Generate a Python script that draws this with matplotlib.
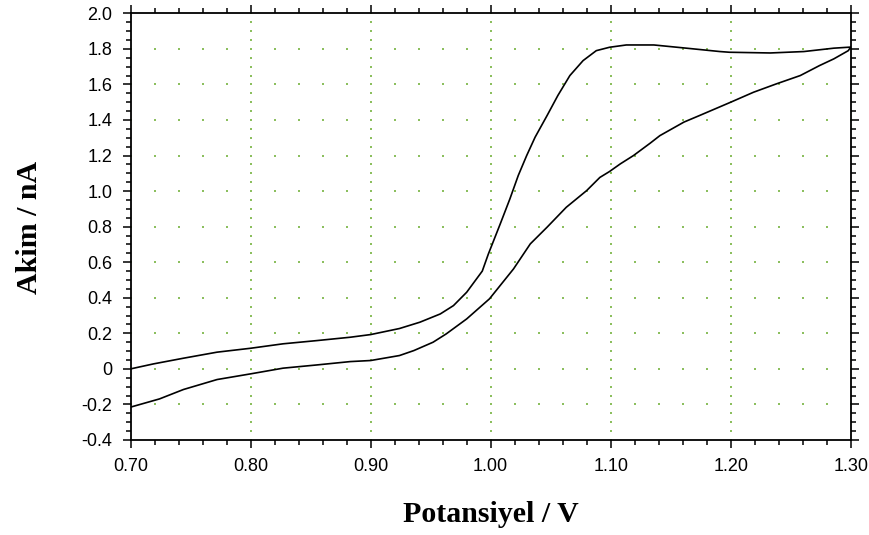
#!/usr/bin/env python3
# -*- coding:utf-8 -*-

import numpy as np
import matplotlib as mpl
mpl.use('Agg')
import matplotlib.pyplot as plt
from matplotlib.ticker import MultipleLocator, FuncFormatter


# forward scan (lower branch), 0.70 -> 1.30 V
fwd_potential = [0.70, 0.724, 0.744, 0.772, 0.80, 0.827, 0.855, 0.883, 0.90,
                 0.924, 0.936, 0.952, 0.963, 0.980, 0.999, 1.019, 1.033,
                 1.047, 1.063, 1.080, 1.091, 1.099, 1.108, 1.119, 1.133,
                 1.141, 1.161, 1.174, 1.200, 1.219, 1.238, 1.258, 1.274,
                 1.286, 1.298, 1.30]
fwd_current = [-0.215, -0.169, -0.116, -0.060, -0.028, 0.004, 0.022, 0.041,
               0.047, 0.075, 0.103, 0.150, 0.197, 0.281, 0.394, 0.562, 0.703,
               0.797, 0.909, 1.003, 1.077, 1.110, 1.153, 1.200, 1.270, 1.312,
               1.388, 1.425, 1.500, 1.556, 1.603, 1.650, 1.706, 1.744, 1.790,
               1.810]

# reverse scan (upper branch), 1.30 -> 0.70 V
rev_potential = [1.30, 1.286, 1.261, 1.233, 1.199, 1.191, 1.163, 1.136, 1.113,
                 1.099, 1.088, 1.077, 1.066, 1.056, 1.047, 1.037, 1.030, 1.023,
                 1.016, 1.008, 0.998, 0.993, 0.980, 0.969, 0.958, 0.941, 0.924,
                 0.90, 0.883, 0.855, 0.827, 0.80, 0.772, 0.744, 0.719, 0.70]
rev_current = [1.810, 1.804, 1.785, 1.777, 1.781, 1.785, 1.804, 1.822, 1.822,
               1.809, 1.790, 1.734, 1.650, 1.538, 1.425, 1.303, 1.200, 1.088,
               0.956, 0.816, 0.645, 0.550, 0.431, 0.356, 0.309, 0.2625, 0.227,
               0.193, 0.178, 0.159, 0.141, 0.116, 0.094, 0.060, 0.028, 0.000]

x_lim = (0.70, 1.30)
y_lim = (-0.4, 2.0)


fig = plt.figure(figsize=(8.7, 5.35), dpi=100)
ax = fig.add_axes([0.1502, 0.1776, 0.8276, 0.7975])

# dotted lattice grid like the instrument software
grid_color = '#8cbf5e'
xmaj = np.round(np.arange(0.80, 1.30, 0.1), 3)
ymaj = np.round(np.arange(-0.2, 2.0, 0.2), 3)
xmin = np.round(np.arange(0.70, 1.30 + 1e-9, 0.02), 3)
ymin = np.round(np.arange(-0.4, 2.0 + 1e-9, 0.05), 3)
gx, gy = [], []
for xv in xmaj:
    for yv in ymin:
        gx.append(xv)
        gy.append(yv)
for yv in ymaj:
    for xv in xmin:
        gx.append(xv)
        gy.append(yv)
ax.scatter(gx, gy, s=2.0, color=grid_color, marker='s', linewidths=0,
           zorder=1, clip_on=True)

ax.plot(list(fwd_potential) + list(rev_potential),
        list(fwd_current) + list(rev_current),
        color='black', lw=1.2, zorder=3)

ax.set_xlim(*x_lim)
ax.set_ylim(*y_lim)

ax.xaxis.set_major_locator(MultipleLocator(0.1))
ax.xaxis.set_minor_locator(MultipleLocator(0.02))
ax.yaxis.set_major_locator(MultipleLocator(0.2))
ax.yaxis.set_minor_locator(MultipleLocator(0.05))
ax.xaxis.set_major_formatter(FuncFormatter(lambda v, p: '{:.2f}'.format(v)))
ax.yaxis.set_major_formatter(FuncFormatter(
    lambda v, p: '0' if abs(v) < 1e-9 else '{:.1f}'.format(v)))

ax.tick_params(which='both', direction='out', top=True, right=True,
               color='black', width=1.1)
ax.tick_params(which='major', length=6, labelsize=13, pad=7,
               labelfontfamily='Liberation Sans')
ax.tick_params(which='minor', length=3.5)
for sp in ax.spines.values():
    sp.set_linewidth(1.3)

fig.text(490.7 / 870, 1 - 515 / 535, 'Potansiyel / V', fontsize=21.5,
         fontweight='bold', family='Liberation Serif',
         ha='center', va='center')
fig.text(30 / 870, 1 - 227 / 535, 'Akim / nA', fontsize=21.5,
         fontweight='bold', family='Liberation Serif', rotation=90,
         ha='center', va='center')

fig.savefig('out.png', dpi=100)
